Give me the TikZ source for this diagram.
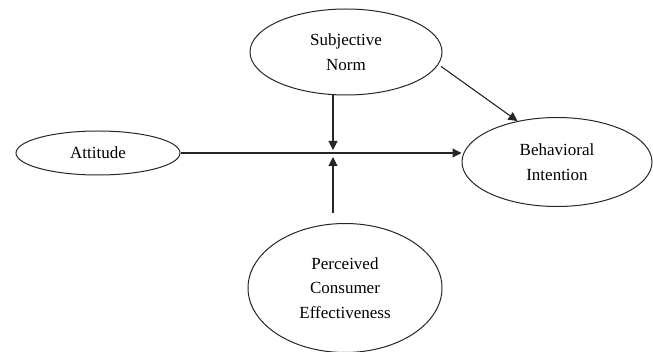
\documentclass[tikz,border=0pt]{standalone}
\usepackage{fontspec}
\setmainfont{Liberation Serif}
\usetikzlibrary{arrows.meta,calc,shapes.geometric}
\begin{document}
\begin{tikzpicture}[x=1pt,y=-1pt,
  construct/.style={draw=black!85,line width=1pt,ellipse,inner sep=0pt,align=center,
    font=\fontsize{17}{24.5}\selectfont},
  arr/.style={draw=black!85,line width=1.1pt,-{Triangle[length=9pt,width=9pt]}}]
\useasboundingbox (0,0) rectangle (653,352);
\node[construct,minimum width=164pt,minimum height=44pt] (att) at (98,153) {Attitude};
\node[construct,minimum width=192pt,minimum height=86pt] (sn) at (346,52) {Subjective\\Norm};
\node[construct,minimum width=190pt,minimum height=89pt] (bi) at (557,162) {Behavioral\\Intention};
\node[construct,minimum width=194pt,minimum height=129pt] (pce) at (345,288) {Perceived\\Consumer\\Effectiveness};
\coordinate (mtop) at (333,150);
\coordinate (mbot) at (333,157);
\coordinate (pstart) at (333,213);
\draw[arr] (att.east) -- (bi.west |- att.east);
\draw[arr] (mtop |- sn.south) -- (mtop);
\draw[arr] (pstart) -- (mbot);
\draw[arr] ([xshift=4pt]sn.-9) -- (bi.134);
\end{tikzpicture}
\end{document}
